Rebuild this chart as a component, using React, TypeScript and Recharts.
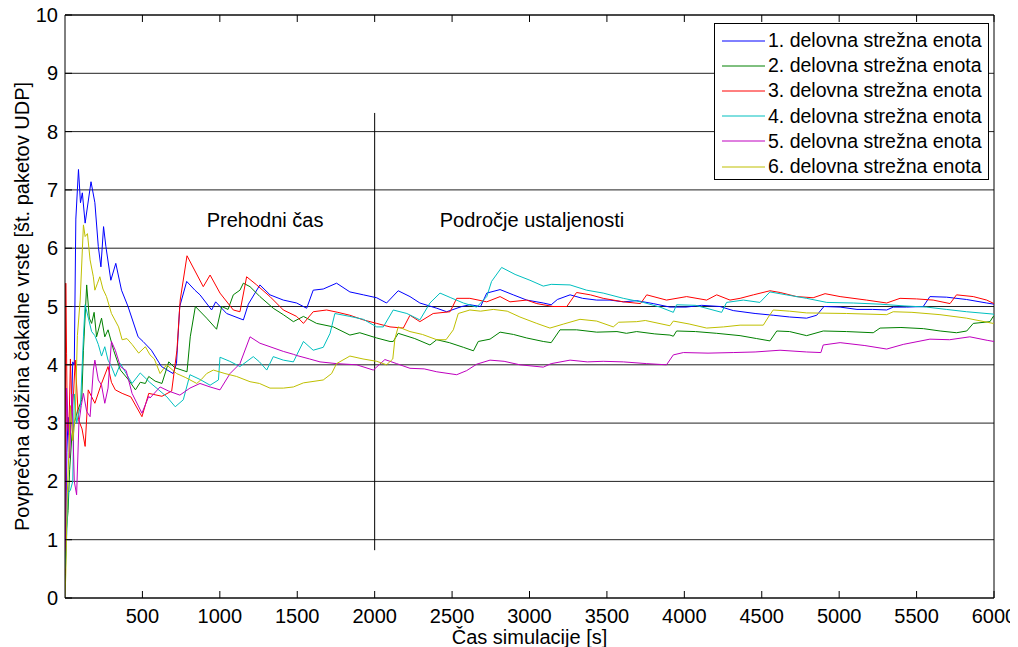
import { LineChart, Line, XAxis, YAxis, CartesianGrid, Legend, ReferenceLine, ReferenceDot } from "recharts";

type Pt = [number, number];

// [time s, avg queue length]
const unit1: Pt[] = [
    [0, 0], [5, 1.2], [12, 2.5], [20, 3.1], [30, 2.8], [40, 3.05], [50, 4.05], [60, 4.0], [70, 6.5], [80, 7.0],
    [87, 7.35], [100, 6.78], [112, 6.95], [130, 6.43], [168, 7.14], [193, 6.78], [215, 6.03], [232, 5.68],
    [249, 6.37], [264, 6.03], [296, 5.45], [328, 5.74], [365, 5.28], [407, 5.0], [472, 4.48], [504, 4.4],
    [558, 4.25], [623, 3.97], [698, 3.85], [720, 4.02], [741, 5.0], [786, 5.43], [839, 5.28], [872, 5.2],
    [947, 4.94], [973, 5.08], [1044, 4.88], [1152, 4.77], [1184, 5.04], [1259, 5.37], [1324, 5.2], [1410, 5.11],
    [1496, 5.06], [1561, 4.97], [1603, 5.28], [1668, 5.3], [1754, 5.4], [1840, 5.25], [1927, 5.2], [2013, 5.15],
    [2077, 5.06], [2152, 5.27], [2228, 5.17], [2292, 5.06], [2401, 4.97], [2465, 4.91], [2563, 5.0], [2615, 5.03],
    [2684, 5.0], [2724, 5.23], [2810, 5.29], [2895, 5.2], [2982, 5.11], [3089, 5.06], [3140, 5.03], [3180, 5.12],
    [3262, 5.2], [3343, 5.14], [3434, 5.11], [3520, 5.11], [3606, 5.08], [3692, 5.1], [3799, 5.05], [3907, 4.99],
    [4011, 4.99], [4112, 5.02], [4230, 5.0], [4316, 4.93], [4457, 4.88], [4574, 4.85], [4680, 4.82], [4790, 4.8],
    [4855, 4.85], [4902, 5.0], [5006, 4.99], [5115, 4.95], [5216, 4.95], [5307, 4.94], [5350, 4.99], [5435, 4.99],
    [5543, 5.0], [5586, 5.17], [5694, 5.16], [5823, 5.12], [5953, 5.06], [6000, 5.04],
];

const unit2: Pt[] = [
    [0, 0.2], [10, 1.2], [20, 1.5], [30, 2.2], [45, 2.8], [60, 3.0], [80, 3.2], [108, 3.4], [119, 4.25], [140, 5.37],
    [157, 4.8], [172, 4.71], [188, 4.9], [204, 4.48], [236, 4.8], [257, 4.48], [278, 4.6], [314, 4.25], [358, 3.91],
    [411, 3.74], [455, 3.57], [486, 3.7], [519, 3.68], [541, 3.8], [582, 3.72], [626, 3.68], [670, 4.05], [709, 3.95],
    [788, 3.88], [809, 4.48], [842, 5.0], [915, 4.8], [979, 4.61], [1012, 5.0], [1053, 4.95], [1087, 5.2], [1130, 5.28],
    [1152, 5.4], [1195, 5.34], [1259, 5.17], [1345, 4.97], [1410, 4.86], [1475, 4.74], [1540, 4.83], [1625, 4.71],
    [1733, 4.65], [1840, 4.51], [1904, 4.55], [2013, 4.46], [2099, 4.4], [2120, 4.4], [2152, 4.54], [2259, 4.45],
    [2357, 4.34], [2401, 4.43], [2482, 4.38], [2573, 4.3], [2638, 4.24], [2669, 4.4], [2745, 4.44], [2810, 4.56],
    [2897, 4.52], [2982, 4.46], [3089, 4.4], [3140, 4.38], [3197, 4.6], [3304, 4.6], [3434, 4.56], [3565, 4.57],
    [3626, 4.54], [3692, 4.57], [3809, 4.53], [3907, 4.51], [3929, 4.49], [3950, 4.58], [4072, 4.57], [4209, 4.54],
    [4360, 4.5], [4467, 4.45], [4553, 4.41], [4597, 4.58], [4680, 4.57], [4790, 4.5], [4897, 4.58], [5048, 4.57],
    [5220, 4.55], [5264, 4.63], [5399, 4.64], [5544, 4.62], [5652, 4.58], [5758, 4.55], [5824, 4.58], [5866, 4.71],
    [5974, 4.74], [5995, 4.83], [6000, 4.82],
];

const unit3: Pt[] = [
    [0, 0.4], [5, 5.4], [10, 4.2], [15, 3.0], [25, 2.8], [35, 4.1], [45, 3.2], [55, 3.5], [66, 4.08], [87, 3.06],
    [110, 2.9], [130, 2.6], [150, 3.57], [193, 3.34], [236, 3.68], [278, 3.97], [300, 3.7], [325, 3.57], [369, 3.51],
    [425, 3.45], [497, 3.11], [541, 3.51], [626, 3.46], [689, 3.55], [723, 4.25], [744, 5.11], [788, 5.87],
    [893, 5.34], [937, 5.54], [1001, 5.23], [1087, 4.94], [1130, 4.91], [1173, 5.51], [1238, 5.37], [1324, 5.17],
    [1410, 4.94], [1496, 4.83], [1540, 4.71], [1603, 4.91], [1690, 4.94], [1762, 4.9], [1840, 4.85], [1927, 4.77],
    [2013, 4.71], [2099, 4.65], [2185, 4.63], [2228, 4.85], [2292, 4.74], [2378, 4.88], [2487, 4.91], [2530, 5.14],
    [2615, 5.14], [2724, 5.08], [2810, 5.17], [2874, 5.08], [2982, 5.11], [3047, 5.05], [3153, 5.0], [3241, 5.0],
    [3304, 5.24], [3393, 5.2], [3476, 5.14], [3606, 5.08], [3717, 5.05], [3757, 5.2], [3885, 5.11], [4015, 5.17],
    [4144, 5.11], [4209, 5.2], [4295, 5.11], [4360, 5.14], [4446, 5.2], [4553, 5.27], [4619, 5.24], [4725, 5.17],
    [4832, 5.15], [4909, 5.22], [5006, 5.17], [5177, 5.11], [5307, 5.06], [5393, 5.14], [5500, 5.13], [5607, 5.11],
    [5716, 5.05], [5758, 5.2], [5866, 5.17], [5953, 5.11], [6000, 5.05],
];

const unit4: Pt[] = [
    [0, 0.5], [10, 1.0], [20, 1.8], [35, 1.85], [50, 2.0], [60, 3.5], [75, 3.0], [100, 3.3], [119, 4.48], [130, 5.03],
    [151, 4.8], [172, 4.57], [193, 4.5], [215, 4.35], [236, 4.15], [257, 4.31], [278, 4.08], [300, 3.97], [325, 3.8],
    [358, 4.02], [395, 3.85], [433, 3.68], [486, 3.86], [547, 3.7], [605, 3.57], [658, 3.45], [712, 3.28], [764, 3.4],
    [807, 3.83], [871, 3.75], [937, 3.65], [991, 3.74], [1001, 4.13], [1064, 4.06], [1130, 3.97], [1216, 4.14],
    [1256, 4.05], [1303, 3.91], [1345, 4.14], [1410, 4.08], [1475, 4.05], [1540, 4.4], [1603, 4.25], [1668, 4.3],
    [1712, 4.54], [1743, 4.88], [1840, 4.83], [1927, 4.78], [2013, 4.65], [2056, 4.65], [2120, 4.94], [2208, 4.88],
    [2292, 4.77], [2357, 5.06], [2422, 5.23], [2492, 5.15], [2573, 5.06], [2659, 4.99], [2724, 5.17], [2755, 5.43],
    [2820, 5.67], [2907, 5.55], [3003, 5.45], [3089, 5.35], [3140, 5.38], [3262, 5.37], [3369, 5.28], [3476, 5.23],
    [3606, 5.14], [3735, 5.07], [3843, 4.99], [3929, 4.9], [3950, 5.03], [4072, 5.02], [4241, 4.9], [4273, 5.07],
    [4381, 5.11], [4488, 5.07], [4553, 5.25], [4659, 5.2], [4790, 5.14], [4920, 5.07], [5091, 5.06], [5264, 5.04],
    [5419, 5.01], [5565, 4.99], [5692, 4.95], [5823, 4.91], [5995, 4.87], [6000, 4.85],
];

const unit5: Pt[] = [
    [0, 0.8], [5, 1.2], [10, 3.6], [20, 3.0], [30, 2.4], [45, 3.5], [60, 2.0], [75, 1.77], [90, 3.0], [105, 3.3],
    [119, 3.51], [140, 3.2], [162, 3.11], [183, 3.91], [193, 4.08], [215, 3.74], [236, 3.65], [257, 3.34], [278, 3.6],
    [300, 4.4], [325, 4.25], [358, 3.97], [395, 3.9], [433, 3.51], [497, 3.17], [541, 3.46], [549, 3.43], [614, 3.62],
    [669, 3.55], [742, 3.48], [807, 3.6], [872, 3.68], [937, 3.62], [1001, 3.57], [1066, 3.85], [1130, 4.02],
    [1195, 4.48], [1259, 4.37], [1324, 4.31], [1410, 4.23], [1475, 4.18], [1496, 4.16], [1580, 4.1], [1647, 4.05],
    [1754, 4.02], [1884, 4.0], [1991, 3.91], [2066, 4.09], [2142, 4.02], [2228, 3.94], [2320, 3.93], [2401, 3.88],
    [2530, 3.83], [2594, 3.9], [2659, 4.01], [2745, 4.08], [2836, 4.06], [2938, 4.0], [3089, 3.96], [3140, 4.02],
    [3262, 4.08], [3373, 4.05], [3476, 4.06], [3606, 4.05], [3757, 4.02], [3885, 4.0], [3929, 4.17], [3994, 4.21],
    [4153, 4.2], [4316, 4.21], [4457, 4.22], [4618, 4.25], [4790, 4.22], [4882, 4.21], [4897, 4.34], [5006, 4.38],
    [5166, 4.33], [5307, 4.27], [5414, 4.35], [5586, 4.44], [5713, 4.43], [5844, 4.48], [5956, 4.42], [6000, 4.4],
];

const unit6: Pt[] = [
    [0, 0], [5, 0.4], [15, 1.8], [25, 2.5], [35, 3.3], [50, 2.7], [66, 3.11], [80, 4.5], [98, 5.11], [119, 6.4],
    [130, 6.2], [145, 6.25], [162, 5.8], [183, 5.51], [193, 5.28], [210, 5.4], [225, 5.51], [245, 5.3], [268, 5.17],
    [300, 4.88], [346, 4.65], [369, 4.43], [400, 4.45], [433, 4.35], [476, 4.2], [519, 4.31], [549, 4.17], [577, 4.1],
    [614, 3.85], [656, 4.0], [721, 3.85], [780, 3.78], [851, 3.68], [881, 3.75], [915, 3.85], [958, 3.91],
    [1033, 3.85], [1108, 3.8], [1195, 3.71], [1256, 3.68], [1324, 3.6], [1410, 3.6], [1475, 3.62], [1540, 3.69],
    [1668, 3.74], [1722, 3.85], [1754, 4.02], [1840, 4.15], [1925, 4.1], [2013, 4.06], [2077, 4.0], [2117, 4.1],
    [2131, 4.45], [2152, 4.65], [2228, 4.57], [2309, 4.52], [2401, 4.43], [2461, 4.43], [2508, 4.6], [2540, 4.88],
    [2615, 4.94], [2684, 4.92], [2766, 4.95], [2856, 4.92], [2938, 4.82], [3047, 4.71], [3132, 4.63], [3221, 4.7],
    [3326, 4.78], [3434, 4.75], [3541, 4.65], [3576, 4.73], [3692, 4.74], [3748, 4.76], [3907, 4.67], [3929, 4.75],
    [4031, 4.7], [4144, 4.63], [4254, 4.65], [4360, 4.68], [4510, 4.68], [4543, 4.82], [4574, 4.94], [4680, 4.92],
    [4790, 4.89], [5048, 4.88], [5307, 4.86], [5349, 4.91], [5470, 4.9], [5651, 4.86], [5823, 4.8], [5995, 4.71],
    [6000, 4.72],
];

const seriesNames = [
    "1. delovna strežna enota",
    "2. delovna strežna enota",
    "3. delovna strežna enota",
    "4. delovna strežna enota",
    "5. delovna strežna enota",
    "6. delovna strežna enota",
];
const seriesColors = ["#0000ff", "#008000", "#ff0000", "#00bfbf", "#bf00bf", "#bfbf00"];
const seriesData = [unit1, unit2, unit3, unit4, unit5, unit6];

const xTicks = [500, 1000, 1500, 2000, 2500, 3000, 3500, 4000, 4500, 5000, 5500, 6000];
const yTicks = [0, 1, 2, 3, 4, 5, 6, 7, 8, 9, 10];

const boundaryTime = 2000;
const boundaryFrom = 0.82;
const boundaryTo = 8.32;
const phaseLabels = [
    { text: "Prehodni čas", t: 1292, v: 6.48 },
    { text: "Področje ustaljenosti", t: 3016, v: 6.48 },
];

const FONT = "'Liberation Sans', Arial, sans-serif";
const toRows = (pts: Pt[]) => pts.map(([t, v]) => ({ t, v }));

const XTick = ({ x, y, payload }: any) => (
    <g>
        <line x1={x} y1={y} x2={x} y2={y - 7} stroke="#000" />
        <text x={x} y={y + 25} textAnchor="middle" fontSize={20} fill="#000">{payload.value}</text>
    </g>
);

const YTick = ({ x, y, payload }: any) => (
    <g>
        <line x1={x} y1={y} x2={x + 7} y2={y} stroke="#000" />
        <text x={x - 7} y={y + 7} textAnchor="end" fontSize={20} fill="#000">{payload.value}</text>
    </g>
);

function LegendBox() {
    return (
        <div style={{ border: "1px solid #000", background: "#fff", padding: "4px 0 0 7px", height: 151, fontFamily: FONT }}>
            {seriesNames.map((name, i) => (
                <div key={name} style={{ display: "flex", alignItems: "center", height: 25.2, fontSize: 19.5, color: "#000" }}>
                    <svg width={46} height={10} style={{ flex: "none" }}>
                        <line x1={0} y1={5} x2={43} y2={5} stroke={seriesColors[i]} strokeWidth={1} />
                    </svg>
                    <span style={{ whiteSpace: "nowrap" }}>{name}</span>
                </div>
            ))}
        </div>
    );
}

export default function App() {
    return (
        <div style={{ width: 1010, height: 647, marginTop: -8, fontFamily: FONT }}>
            <LineChart width={1010} height={647} margin={{ top: 15, right: 24, left: 0, bottom: 0 }}>
                <CartesianGrid vertical={false} stroke="#222" strokeWidth={1} />
                <XAxis
                    dataKey="t"
                    type="number"
                    domain={[0, 6000]}
                    ticks={xTicks}
                    allowDataOverflow
                    height={49}
                    tickSize={0}
                    tickMargin={0}
                    tickLine={false}
                    tick={<XTick />}
                    axisLine={{ stroke: "#000" }}
                    label={{ value: "Čas simulacije [s]", position: "insideBottom", offset: 3, fill: "#000", fontSize: 20 }}
                />
                <YAxis
                    type="number"
                    domain={[0, 10]}
                    ticks={yTicks}
                    allowDataOverflow
                    width={57}
                    tickSize={0}
                    tickMargin={0}
                    tickLine={false}
                    tick={<YTick />}
                    axisLine={{ stroke: "#000" }}
                    label={{
                        value: "Povprečna dolžina čakalne vrste [št. paketov UDP]",
                        angle: -90,
                        position: "insideLeft",
                        offset: 14,
                        fill: "#000",
                        fontSize: 20,
                        style: { textAnchor: "middle" },
                    }}
                />
                <ReferenceLine x={6000} stroke="#000" />
                <ReferenceLine y={10} stroke="#000" />
                {xTicks.map((t) => (
                    <ReferenceLine key={t} segment={[{ x: t, y: 10 }, { x: t, y: 9.88 }]} stroke="#000" />
                ))}
                <ReferenceLine
                    segment={[{ x: boundaryTime, y: boundaryFrom }, { x: boundaryTime, y: boundaryTo }]}
                    stroke="#000"
                />
                {phaseLabels.map((p) => (
                    <ReferenceDot
                        key={p.text}
                        x={p.t}
                        y={p.v}
                        r={0}
                        fill="none"
                        stroke="none"
                        label={{ value: p.text, position: "center", fill: "#000", fontSize: 20 }}
                    />
                ))}
                {seriesData.map((pts, i) => (
                    <Line
                        key={seriesNames[i]}
                        data={toRows(pts)}
                        dataKey="v"
                        name={seriesNames[i]}
                        type="linear"
                        stroke={seriesColors[i]}
                        strokeWidth={1}
                        dot={false}
                        activeDot={false}
                        isAnimationActive={false}
                    />
                ))}
                <Legend
                    layout="vertical"
                    align="center"
                    verticalAlign="middle"
                    content={<LegendBox />}
                    wrapperStyle={{ left: 706, top: 23, width: 275, height: 157 }}
                />
            </LineChart>
        </div>
    );
}
